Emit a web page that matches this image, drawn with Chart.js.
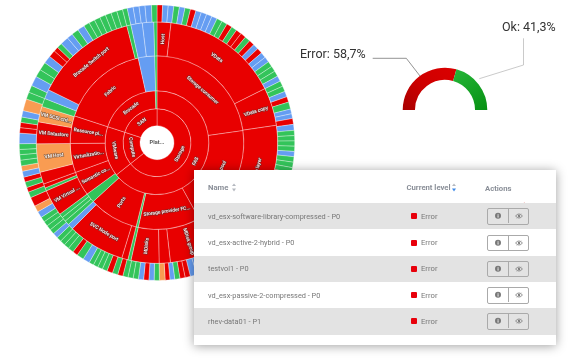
<!DOCTYPE html>
<html>
<head>
<meta charset="utf-8">
<script src="https://cdn.jsdelivr.net/npm/chart.js@4"></script>
<style>
html,body{margin:0;padding:0;background:#fff;width:570px;height:360px;overflow:hidden;font-family:Roboto,sans-serif}
canvas{position:absolute;left:0;top:0;filter:blur(.35px)}
.glabel{position:absolute;font-size:12.5px;color:#333;white-space:nowrap;line-height:14px;filter:blur(.25px)}
#card{position:absolute;left:194px;top:170px;width:362px;height:175px;background:#fff;box-shadow:0 1px 10px rgba(0,0,0,.38);filter:blur(.3px)}
#card .hd{position:absolute;top:12.5px;font-size:7.7px;font-weight:700;color:#8a8f98;white-space:nowrap;line-height:10px}
.row{position:absolute;left:0;width:362px;height:26.3px;color:#777;font-size:7.35px}
.row.odd{background:#e3e3e3}
.row .nm{position:absolute;left:14px;top:7.7px;white-space:nowrap;line-height:11px}
.row .sq{position:absolute;left:216.5px;top:10px;width:6px;height:6px;background:#e8000b;border-radius:1px}
.row .st{position:absolute;left:227px;top:7.7px;line-height:11px;font-size:7.7px}
.row .btn{position:absolute;left:293px;top:5px;width:40px;height:14.5px;border:.8px solid #aaa;border-radius:2px;display:flex}
.row.even .btn{background:#fff}
.row .btn span{display:block;width:20px;height:14px}
.row .btn span:first-child{border-right:.8px solid #aaa}
svg{display:block}
</style>
</head>
<body>
<canvas id="sun" width="570" height="360"></canvas>
<canvas id="gauge" width="570" height="360"></canvas>
<div class="glabel" id="errLabel" style="left:300px;top:47px"></div>
<div class="glabel" id="okLabel" style="left:502px;top:19.5px"></div>
<div id="card"></div>
<script>
const palette = {r:'#e80000', b:'#659df2', g:'#33c45a', o:'#f99c52'};

const ring1Names  = ['Storage','Compute','SAN'];
const ring1Values = [231.6,56.4,72];
const ring1Colors = ['r','r','r'];
const ring1Modes  = ['p','p','p'];

const ring2Names  = ['FAS','VMware','Brocade',''];
const ring2Values = [231.6,56.4,70.1,1.9];
const ring2Colors = ['r','r','r','g'];
const ring2Modes  = ['p','p','p',''];

const ring3Names  = ['Storage consumer','Storage pool','Storage provider FC...','','Ports','','Semantic co...','Virtualizatio...','Resource pi...','Fabric','',''];
const ring3Values = [82,69,41.5,1.5,33.3,6.4,16.3,19.5,18.5,59.5,11,1.5];
const ring3Colors = ['r','r','r','g','r','g','r','r','r','r','b','g'];
const ring3Modes  = ['p','p','p','','r','','r','r','r','p','',''];

const ring4Names  = ['Host','VData','VData copy','VData layer','Volume','MDisk group','','MDisks','','','SVC Node port','','','','','VM Virtual ...','','','','VM Host','VM Datastore','VM SCSI ctrl...','','','Brocade Switch port','','','',''];
const ring4Values = [6.7,56.7,18.3,47.3,22,22.6,5.4,13.5,1.5,3,27.5,2.8,2.2,2.2,2,12.8,1.5,2,5.8,13.7,10.5,7.5,4,4.5,49.5,2,5.5,5.5,1.5];
const ring4Colors = ['r','r','r','r','r','r','r','r','g','r','r','b','g','g','g','r','g','r','r','o','r','o','g','b','r','g','b','b','g'];
const ring4Modes  = ['r','p','r','p','p','r','','r','','','p','','','','','r','','','','r','r','r','','','p','','','',''];

const ring5Values = [
  2.35,2.35,2.35,2.35,2.35,2.35,2.35,2.35,2.35,2.35,2.35,2.35,2.35,2.35,2.35,2.35,
  2.35,2.35,2.35,2.35,2.35,2.35,2.35,2.35,2.35,2.35,2.35,2.35,2.35,2.35,2.35,
  3,2,2,2.5,2.5,2.2,2.2,2.2,2.2,2.2,2.3,2.3,2.3,
  2.42,2.42,2.42,2.42,2.42,2.42,2.42,2.42,2.42,2.42,2.42,2.42,2.42,2.42,2.42,2.42,2.42,2.42,2.42,2.42,2.42,2.42,2.42,2.42,2.42,
  2.75,2.2,2.2,2.2,2,2,2.4,2.2,2.2,2.2,2.2,2.2,2.2,2.2,2.2,2.3,2.4,
  2.1,2.1,2,2,2.9,3,2.2,2.4,2.2,2.2,2.1,2.2,2.1,2.1,2.1,2.2,2.7,2.7,3.9,2.5,2,2.4,2.1,2.5,2.3,
  2.4,2.3,2.2,2.4,4.4,2.3,2.2,2.3,2.7,5,3,3,4.2,3.3,3.5,3.3,3,2,2.2,3.5,2.5,3,3,
  2.5,2.5,2.5,2.5,2.5,2.5,2.5,2,2.5,2.5,2.5,2.7,2.3];
const ring5Colors = (
  'r b b g b g r b b b b g g r g r r g r b r b b g g g b g g b r '+
  'g b b r b g g g g b g g g '+
  'r g g r b g r g g b r g r g b g g r g g b r g g b '+
  'b r r g b r o g b r b g g g r g r '+
  'g g g g b g r g g g g b g g g g b o r g r g r b o '+
  'g g g g b r r g b o g g b g g b r r g b b g b '+
  'g g g g g g g g b b b b g').trim().split(' ');

const centerLabel = 'Plat...';
const rings = [
  {values:ring5Values,colors:ring5Colors,names:[],modes:[],weight:17},
  {values:ring4Values,colors:ring4Colors,names:ring4Names,modes:ring4Modes,weight:34},
  {values:ring3Values,colors:ring3Colors,names:ring3Names,modes:ring3Modes,weight:35},
  {values:ring2Values,colors:ring2Colors,names:ring2Names,modes:ring2Modes,weight:18},
  {values:ring1Values,colors:ring1Colors,names:ring1Names,modes:ring1Modes,weight:17}
];

const sunLabels = {
  id:'sunLabels',
  afterDatasetsDraw(chart){
    const c = chart.ctx;
    c.save();
    c.textAlign='center'; c.textBaseline='middle';
    c.lineJoin='round';
    rings.forEach((ring,di)=>{
      chart.getDatasetMeta(di).data.forEach((arc,i)=>{
        const name = ring.names[i];
        if(!name) return;
        const p = arc.getProps(['x','y','startAngle','endAngle','innerRadius','outerRadius']);
        const a = (p.startAngle+p.endAngle)/2;
        const r = (p.innerRadius+p.outerRadius)/2;
        let rot = ring.modes[i]==='p' ? a+Math.PI/2 : a;
        rot = Math.atan2(Math.sin(rot),Math.cos(rot));
        if(rot>Math.PI/2) rot-=Math.PI;
        if(rot<-Math.PI/2) rot+=Math.PI;
        c.save();
        c.translate(p.x+Math.cos(a)*r,p.y+Math.sin(a)*r);
        c.rotate(rot);
        c.font='500 4.9px Roboto';
        c.lineWidth=1.5;
        c.strokeStyle='rgba(70,60,60,.55)';
        c.strokeText(name,0,0);
        c.fillStyle='#fff';
        c.fillText(name,0,0);
        c.restore();
      });
    });
    const a0 = chart.getDatasetMeta(0).data[0];
    c.font='700 5.6px Roboto';
    c.fillStyle='#555';
    c.fillText(centerLabel,a0.x,a0.y);
    c.restore();
  }
};

new Chart(document.getElementById('sun'),{
  type:'doughnut',
  data:{datasets:rings.map(ring=>({
    data:ring.values,
    backgroundColor:ring.colors.map(k=>palette[k]),
    borderColor:'rgba(255,255,255,.55)',
    borderWidth:.6,
    weight:ring.weight
  }))},
  options:{
    responsive:false,animation:false,cutout:17,
    layout:{padding:{left:19,top:4.7,right:275,bottom:79.3}},
    plugins:{legend:{display:false},tooltip:{enabled:false}}
  },
  plugins:[sunLabels]
});

const gaugeNames  = ['Error','Ok'];
const gaugeValues = [58.7,41.3];
const errorLeader = [[372.7,58.3],[406.3,58.3],[420,76]];
const okLeader    = [[523.5,38.3],[523.5,65],[479.3,78.7]];

document.getElementById('errLabel').textContent = gaugeNames[0]+': '+String(gaugeValues[0]).replace('.',',')+'%';
document.getElementById('okLabel').textContent  = gaugeNames[1]+': '+String(gaugeValues[1]).replace('.',',')+'%';

const leaders = {
  id:'leaders',
  afterDatasetsDraw(chart){
    const c = chart.ctx;
    [[errorLeader,'#777'],[okLeader,'#bdbdbd']].forEach(([pts,col])=>{
      c.beginPath();
      pts.forEach((q,i)=> i? c.lineTo(q[0],q[1]) : c.moveTo(q[0],q[1]));
      c.strokeStyle=col; c.lineWidth=.8; c.stroke();
    });
  }
};

new Chart(document.getElementById('gauge'),{
  type:'doughnut',
  data:{labels:gaugeNames,datasets:[{
    data:gaugeValues,
    borderWidth:0,
    backgroundColor(ctx){
      const g = ctx.chart.ctx;
      if(ctx.dataIndex===0){
        const l = g.createLinearGradient(403,110,445,68);
        l.addColorStop(0,'#a80000'); l.addColorStop(.55,'#cf0000'); l.addColorStop(1,'#d80000');
        return l;
      }
      const l = g.createLinearGradient(460,70,487,110);
      l.addColorStop(0,'#24b336'); l.addColorStop(1,'#069012');
      return l;
    }
  }]},
  options:{
    responsive:false,animation:false,rotation:-90,circumference:180,cutout:'71%',
    layout:{padding:{left:402.7,top:67.7,right:82.7,bottom:250}},
    plugins:{legend:{display:false},tooltip:{enabled:false}}
  },
  plugins:[leaders]
});

const tableHeaders = ['Name','Current level','Actions'];
const tableNames = ['vd_esx-software-library-compressed - P0','vd_esx-active-2-hybrid - P0','testvol1 - P0','vd_esx-passive-2-compressed - P0','rhev-data01 - P1'];
const tableLevels = ['Error','Error','Error','Error','Error'];

const infoIcon = '<svg width="20" height="14" viewBox="0 0 20 14"><circle cx="10" cy="6.8" r="3" fill="#777"/><rect x="9.6" y="6.2" width=".9" height="2.4" fill="#fff"/><rect x="9.6" y="4.9" width=".9" height=".8" fill="#fff"/></svg>';
const eyeIcon = '<svg width="20" height="14" viewBox="0 0 20 14"><path d="M6.6 7c1.8-2.6 5-2.6 6.8 0c-1.8 2.6-5 2.6-6.8 0z" fill="none" stroke="#777" stroke-width=".8"/><circle cx="10" cy="7" r="1.2" fill="#777"/><path d="M7.5 9.6L12.5 4.6" stroke="#999" stroke-width=".5"/></svg>';
const card = document.getElementById('card');
let html = '<div class="hd" style="left:14px">'+tableHeaders[0]+'</div>'
 +'<svg style="position:absolute;left:37px;top:13px" width="6" height="9"><path d="M3 .5L5 3H1zM3 8.5L1 5.5H5z" fill="#b5b9c0"/></svg>'
 +'<div class="hd" style="left:212.5px">'+tableHeaders[1]+'</div>'
 +'<svg style="position:absolute;left:257px;top:13px" width="6" height="9"><path d="M3 .5L5 3H1z" fill="#b5b9c0"/><path d="M3 8.5L1 5.5H5z" fill="#3f8ae8"/></svg>'
 +'<div class="hd" style="left:291px;top:13.5px">'+tableHeaders[2]+'</div>'
 +'<svg style="position:absolute;left:325px;top:30px" width="8" height="8"><path d="M.5 7L6 2" stroke="#e8a0a0" stroke-width=".5"/></svg>';
tableNames.forEach((n,i)=>{
  html += '<div class="row '+(i%2?'even':'odd')+'" style="top:'+(33.2+i*26.3)+'px">'
   +'<div class="nm">'+n+'</div><div class="sq"></div><div class="st">'+tableLevels[i]+'</div>'
   +'<div class="btn"><span>'+infoIcon+'</span><span>'+eyeIcon+'</span></div></div>';
});
card.innerHTML = html;
</script>
</body>
</html>
